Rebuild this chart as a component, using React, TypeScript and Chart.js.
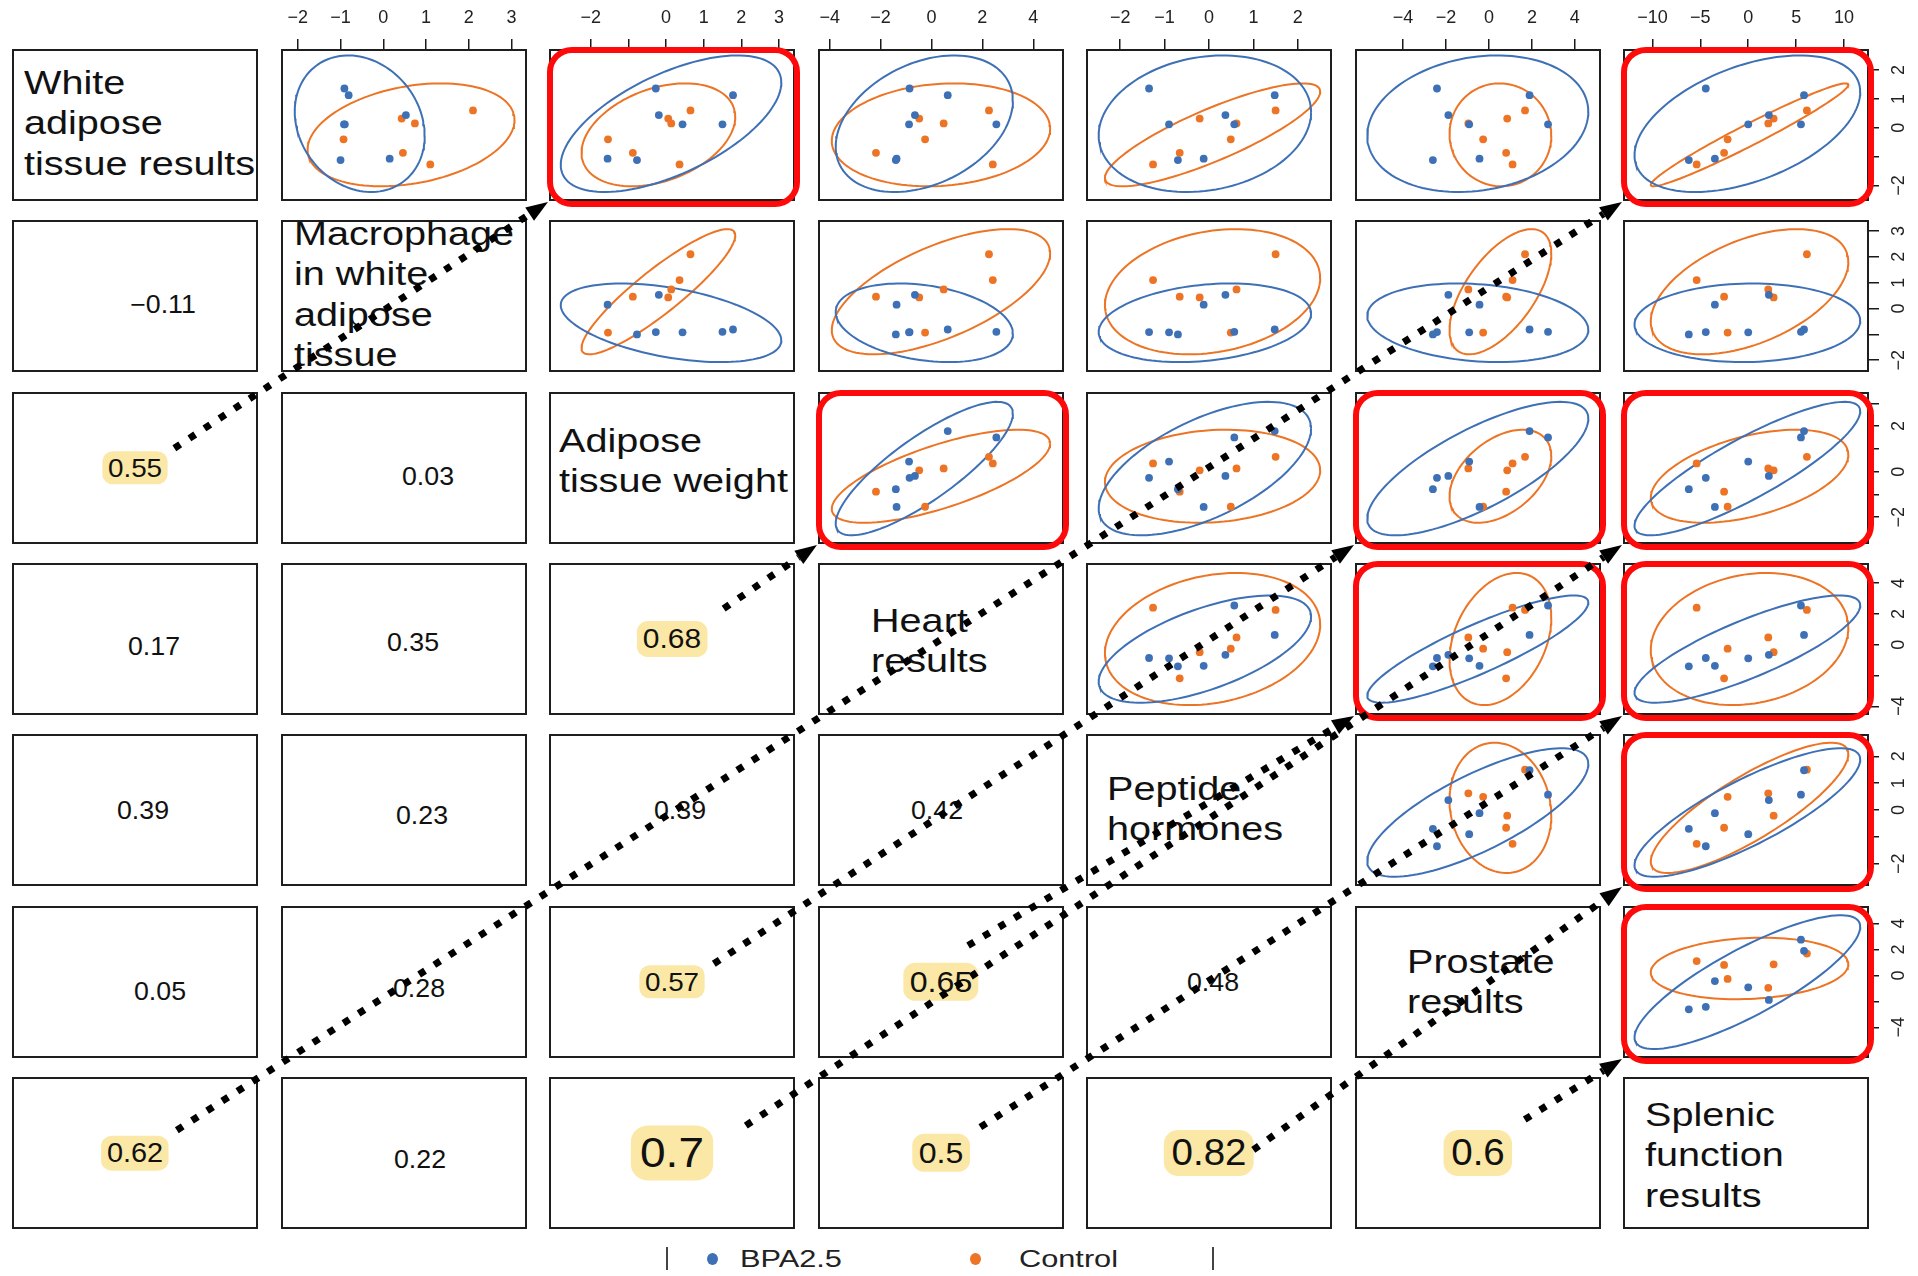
import React, { useEffect, useRef } from "react";
import { Chart, registerables } from "chart.js";

Chart.register(...registerables);

const FONT = "'Liberation Sans', Arial, Helvetica, sans-serif";

// ---------- data ----------
const variableNames: string[][] = [
  ["White", "adipose", "tissue results"],
  ["Macrophage", "in white", "adipose", "tissue"],
  ["Adipose", "tissue weight"],
  ["Heart", "results"],
  ["Peptide", "hormones"],
  ["Prostate", "results"],
  ["Splenic", "function", "results"],
];

const groupNames = ["BPA2.5", "Control"];

// BPA2.5 group (7 observations)
const bpaWhiteAdipose = [1.36, 1.13, 0.44, 0.12, 0.12, -1.12, -1.07];
const bpaMacrophage = [-0.91, -0.81, 0.53, -0.92, -0.9, -1.0, 0.15];
const bpaAdiposeWeight = [-0.27, 1.78, -0.19, 0.44, 1.5, -0.77, -1.55];
const bpaHeart = [-0.86, 0.64, -0.65, -0.88, 2.55, -1.4, -1.37];
const bpaPeptide = [-1.35, 1.48, 0.37, -0.9, 0.57, -0.7, -0.12];
const bpaProstate = [-2.42, 1.89, -1.89, -0.92, 2.75, -2.61, -0.44];
const bpaSplenic = [-4.43, 5.82, 2.15, 0.0, 5.5, -6.2, -3.48];

// Control group (6 observations)
const ctrlWhiteAdipose = [0.6, 0.32, 0.15, -0.4, -0.87, -1.27];
const ctrlMacrophage = [2.1, 0.43, 0.74, -0.93, 0.46, 1.1];
const ctrlAdiposeWeight = [0.65, 0.06, 0.14, -1.54, -0.88, 0.36];
const ctrlHeart = [2.26, -0.48, 0.48, -0.25, -2.18, 2.41];
const ctrlPeptide = [1.5, -0.21, 0.62, 0.49, -0.66, -1.26];
const ctrlProstate = [1.68, 0.85, -0.96, -0.27, 0.8, 1.1];
const ctrlSplenic = [6.12, 2.65, 2.09, -2.15, -2.52, -5.38];

// axis ranges per variable
const axisMin = [-2.4, -2.3, -3.0, -4.3, -2.68, -6.05, -12.65];
const axisMax = [2.73, 3.27, 3.32, 5.05, 2.68, 5.03, 12.6];

// ticks per variable
const ticksV1 = [-2, -1, 0, 1, 2];
const ticksV2 = [-2, -1, 0, 1, 2, 3];
const ticksV3 = [-2, -1, 0, 1, 2, 3];
const ticksV4 = [-4, -2, 0, 2, 4];
const ticksV5 = [-2, -1, 0, 1, 2];
const ticksV6 = [-4, -2, 0, 2, 4];
const ticksV7 = [-10, -5, 0, 5, 10];

// labelled ticks on the top axis (columns) and right axis (rows)
const topLabelsV2 = [-2, -1, 0, 1, 2, 3];
const topLabelsV3 = [-2, 0, 1, 2, 3];
const topLabelsV4 = [-4, -2, 0, 2, 4];
const topLabelsV5 = [-2, -1, 0, 1, 2];
const topLabelsV6 = [-4, -2, 0, 2, 4];
const topLabelsV7 = [-10, -5, 0, 5, 10];
const rightLabelsV1 = [-2, 0, 1, 2];
const rightLabelsV2 = [-2, 0, 1, 2, 3];
const rightLabelsV3 = [-2, 0, 2];
const rightLabelsV4 = [-4, 0, 2, 4];
const rightLabelsV5 = [-2, 0, 1, 2];
const rightLabelsV6 = [-4, 0, 2, 4];

// correlations (lower triangle, rows 2..7)
const corrRow2 = ["\u22120.11"];
const corrRow3 = ["0.55", "0.03"];
const corrRow4 = ["0.17", "0.35", "0.68"];
const corrRow5 = ["0.39", "0.23", "0.39", "0.42"];
const corrRow6 = ["0.05", "0.28", "0.57", "0.65", "0.48"];
const corrRow7 = ["0.62", "0.22", "0.7", "0.5", "0.82", "0.6"];

// highlighted correlations [row, col] (0-based, lower triangle)
const highlighted: [number, number][] = [
  [2, 0], [3, 2], [5, 2], [5, 3], [6, 0], [6, 2], [6, 3], [6, 4], [6, 5],
];

// ---------- tables built from the arrays ----------
const bpaVars = [bpaWhiteAdipose, bpaMacrophage, bpaAdiposeWeight, bpaHeart, bpaPeptide, bpaProstate, bpaSplenic];
const ctrlVars = [ctrlWhiteAdipose, ctrlMacrophage, ctrlAdiposeWeight, ctrlHeart, ctrlPeptide, ctrlProstate, ctrlSplenic];
const varTicks = [ticksV1, ticksV2, ticksV3, ticksV4, ticksV5, ticksV6, ticksV7];
const topLabels = [ticksV1, topLabelsV2, topLabelsV3, topLabelsV4, topLabelsV5, topLabelsV6, topLabelsV7];
const rightLabels = [rightLabelsV1, rightLabelsV2, rightLabelsV3, rightLabelsV4, rightLabelsV5, rightLabelsV6, ticksV7];
const corrRows = [[], corrRow2, corrRow3, corrRow4, corrRow5, corrRow6, corrRow7];

// ---------- styles / layout ----------
const COLORS = ["#3E70B6", "#EC7424"];
const HL_COLOR = "#FBE8A6";
const RED = "#FE0A0A";
const TOP_AXIS = 49;
const RIGHT_AXIS = 50;

function cellRect(r: number, c: number) {
  return { x: Math.round(12 + 268.5 * c), y: Math.round(49 + 171.3 * r), w: 246, h: 152 };
}

const corrOffset: Record<string, [number, number]> = {
  "1-0": [28, 8], "2-0": [0, 0], "3-0": [19, 7], "4-0": [8, 0], "5-0": [25, 9], "6-0": [0, 0],
  "2-1": [24, 8], "3-1": [9, 3], "4-1": [18, 5], "5-1": [15, 6], "6-1": [16, 6],
  "3-2": [0, 0], "4-2": [8, 0], "5-2": [0, 0], "6-2": [0, 0],
  "4-3": [-4, 0], "5-3": [0, 0], "6-3": [0, 0],
  "5-4": [4, 0], "6-4": [0, 0], "6-5": [0, 0],
};
const hlFontSize: Record<string, number> = {
  "2-0": 26, "3-2": 28, "5-2": 26, "5-3": 30, "6-0": 27, "6-2": 43, "6-3": 30, "6-4": 36, "6-5": 36,
};
const arrowStart: Record<string, [number, number]> = {
  "2-0": [0.66, 0.37], "3-2": [0.71, 0.3], "5-2": [0.67, 0.38], "5-3": [0.61, 0.26],
  "6-0": [0.67, 0.35], "6-2": [0.8, 0.32], "6-3": [0.66, 0.33], "6-4": [0.68, 0.48], "6-5": [0.69, 0.28],
};
const labelPos: [number, number][] = [
  [24, 94], [294, 245], [559, 452], [871, 632], [1107, 800], [1407, 973], [1645, 1126],
];
const legendDotX = [712, 975];
const legendTextX = [740, 1019];

const fmt = (v: number) => (v < 0 ? "\u2212" + Math.abs(v) : String(v));

function ellipsePoints(xs: number[], ys: number[]) {
  const n = xs.length;
  const mx = xs.reduce((a, b) => a + b, 0) / n;
  const my = ys.reduce((a, b) => a + b, 0) / n;
  let sxx = 0, syy = 0, sxy = 0;
  for (let i = 0; i < n; i++) {
    sxx += (xs[i] - mx) ** 2;
    syy += (ys[i] - my) ** 2;
    sxy += (xs[i] - mx) * (ys[i] - my);
  }
  sxx /= n - 1; syy /= n - 1; sxy /= n - 1;
  const a = Math.sqrt(sxx);
  const b = sxy / a;
  const c = Math.sqrt(Math.max(syy - b * b, 1e-9));
  const k = Math.sqrt(5.991); // 95% normal data ellipse
  const pts: { x: number; y: number }[] = [];
  const steps = 120;
  for (let s = 0; s <= steps; s++) {
    const t = (2 * Math.PI * s) / steps;
    pts.push({ x: mx + k * a * Math.cos(t), y: my + k * (b * Math.cos(t) + c * Math.sin(t)) });
  }
  return pts;
}

function axisOptions(v: number, horizontal: boolean, show: boolean) {
  const tickVals = varTicks[v];
  const labelled = horizontal ? topLabels[v] : rightLabels[v];
  return {
    type: "linear" as const,
    position: horizontal ? ("top" as const) : ("right" as const),
    min: axisMin[v],
    max: axisMax[v],
    display: show,
    grid: { display: true, drawOnChartArea: false, drawTicks: true, tickLength: 10, color: "#1a1a1a", lineWidth: 1.5 },
    border: { display: false },
    afterBuildTicks: (axis: any) => {
      axis.ticks = tickVals.map((value) => ({ value }));
    },
    afterFit: (axis: any) => {
      if (!show) {
        axis.width = 0;
        axis.height = 0;
        axis.paddingLeft = 0;
        axis.paddingRight = 0;
        axis.paddingTop = 0;
        axis.paddingBottom = 0;
        return;
      }
      if (horizontal) {
        axis.height = TOP_AXIS;
        axis.paddingLeft = 0;
        axis.paddingRight = 0;
      } else {
        axis.width = RIGHT_AXIS;
        axis.paddingTop = 0;
        axis.paddingBottom = 0;
      }
    },
    ticks: {
      autoSkip: false,
      font: { family: FONT, size: 18 },
      color: "#222",
      padding: horizontal ? 10 : 10,
      minRotation: horizontal ? 0 : 90,
      maxRotation: horizontal ? 0 : 90,
      crossAlign: horizontal ? ("near" as const) : ("center" as const),
      callback: (value: any) => (labelled.includes(Number(value)) ? fmt(Number(value)) : ""),
    },
  };
}

function ScatterPanel({ row, col }: { row: number; col: number }) {
  const ref = useRef<HTMLCanvasElement>(null);
  const box = cellRect(row, col);
  const topAxis = row === 0;
  const rightAxis = col === 6;
  const extraTop = topAxis ? TOP_AXIS : 0;
  const width = box.w + (rightAxis ? RIGHT_AXIS : 0);
  const height = box.h + extraTop;

  useEffect(() => {
    const xsets = [bpaVars[col], ctrlVars[col]];
    const ysets = [bpaVars[row], ctrlVars[row]];
    const datasets: any[] = [];
    groupNames.forEach((g, gi) => {
      datasets.push({
        label: g,
        data: xsets[gi].map((x, k) => ({ x, y: ysets[gi][k] })),
        pointRadius: 3.9,
        pointBackgroundColor: COLORS[gi],
        pointBorderWidth: 0,
        showLine: false,
      });
    });
    groupNames.forEach((g, gi) => {
      datasets.push({
        label: g + " ellipse",
        data: ellipsePoints(xsets[gi], ysets[gi]),
        showLine: true,
        pointRadius: 0,
        borderColor: COLORS[gi],
        borderWidth: 2,
        fill: false,
        tension: 0,
      });
    });
    const chart = new Chart(ref.current!, {
      type: "scatter",
      data: { datasets },
      options: {
        responsive: false,
        animation: false,
        events: [],
        layout: { padding: 0 },
        plugins: { legend: { display: false }, tooltip: { enabled: false } },
        scales: {
          x: axisOptions(col, true, topAxis) as any,
          y: axisOptions(row, false, rightAxis) as any,
        },
      },
    });
    return () => chart.destroy();
  }, [row, col]);

  return (
    <canvas
      ref={ref}
      width={width}
      height={height}
      style={{ position: "absolute", left: box.x, top: box.y - extraTop, width, height }}
    />
  );
}

function Overlay() {
  const ref = useRef<HTMLCanvasElement>(null);
  useEffect(() => {
    const annotations = {
      id: "annotations",
      afterDraw(chart: any) {
        const ctx: CanvasRenderingContext2D = chart.ctx;
        ctx.save();
        // red rounded frames on the mirrored panels
        highlighted.forEach(([r, c]) => {
          const p = cellRect(c, r);
          ctx.beginPath();
          ctx.strokeStyle = RED;
          ctx.lineWidth = 6;
          (ctx as any).roundRect(p.x + 1, p.y + 1, p.w + 1, p.h + 2, 22);
          ctx.stroke();
        });
        // dotted arrows
        highlighted.forEach(([r, c]) => {
          const src = cellRect(r, c);
          const f = arrowStart[`${r}-${c}`];
          const sx = src.x + f[0] * src.w;
          const sy = src.y + f[1] * src.h;
          const p = cellRect(c, r);
          const tx = p.x - 1;
          const ty = p.y + p.h + 1;
          const dx = tx - sx, dy = ty - sy;
          const len = Math.hypot(dx, dy);
          const ux = dx / len, uy = dy / len;
          const head = 22, half = 8;
          const bx = tx - ux * head, by = ty - uy * head;
          ctx.beginPath();
          ctx.strokeStyle = "#000";
          ctx.lineWidth = 7;
          ctx.lineCap = "butt";
          ctx.setLineDash([7, 11]);
          ctx.moveTo(sx, sy);
          ctx.lineTo(bx, by);
          ctx.stroke();
          ctx.setLineDash([]);
          ctx.beginPath();
          ctx.fillStyle = "#000";
          ctx.moveTo(tx, ty);
          ctx.lineTo(bx - uy * half, by + ux * half);
          ctx.lineTo(bx + uy * half, by - ux * half);
          ctx.closePath();
          ctx.fill();
        });
        ctx.restore();
      },
    };
    const chart = new Chart(ref.current!, {
      type: "scatter",
      data: { datasets: [] },
      options: {
        responsive: false,
        animation: false,
        events: [],
        layout: { padding: 0 },
        scales: { x: { display: false }, y: { display: false } },
        plugins: { legend: { display: false }, tooltip: { enabled: false } },
      },
      plugins: [annotations],
    });
    return () => chart.destroy();
  }, []);
  return (
    <canvas
      ref={ref}
      width={1918}
      height={1276}
      style={{ position: "absolute", left: 0, top: 0, width: 1918, height: 1276, pointerEvents: "none" }}
    />
  );
}

export default function App() {
  const cells: React.ReactNode[] = [];
  for (let r = 0; r < 7; r++) {
    for (let c = 0; c < 7; c++) {
      const b = cellRect(r, c);
      cells.push(
        <div
          key={`box-${r}-${c}`}
          style={{
            position: "absolute",
            left: b.x,
            top: b.y,
            width: b.w,
            height: b.h,
            border: "2px solid #1e1e1e",
            boxSizing: "border-box",
            background: "#fff",
          }}
        />
      );
    }
  }

  const panels: React.ReactNode[] = [];
  for (let r = 0; r < 7; r++) {
    for (let c = r + 1; c < 7; c++) {
      panels.push(<ScatterPanel key={`p-${r}-${c}`} row={r} col={c} />);
    }
  }

  const labels = variableNames.map((lines, i) => {
    const [lx, baseline] = labelPos[i];
    return (
      <div
        key={`lab-${i}`}
        style={{
          position: "absolute",
          left: lx,
          top: baseline - 31.5,
          fontFamily: FONT,
          fontSize: 33,
          lineHeight: "40.5px",
          color: "#111",
          whiteSpace: "nowrap",
          transform: "scaleX(1.2)",
          transformOrigin: "0 0",
        }}
      >
        {lines.map((l, k) => (
          <div key={k}>{l}</div>
        ))}
      </div>
    );
  });

  const corrTexts: React.ReactNode[] = [];
  corrRows.forEach((rowVals, r) => {
    rowVals.forEach((txt, c) => {
      const key = `${r}-${c}`;
      const b = cellRect(r, c);
      const [dx, dy] = corrOffset[key] || [0, 0];
      const hl = highlighted.some(([hr, hc]) => hr === r && hc === c);
      const size = hl ? hlFontSize[key] : 25;
      corrTexts.push(
        <div
          key={`corr-${key}`}
          style={{
            position: "absolute",
            left: b.x + b.w / 2 + dx,
            top: b.y + b.h / 2 + dy,
            transform: "translate(-50%, -50%) scaleX(1.07)",
            fontFamily: FONT,
            fontSize: size,
            lineHeight: 1.08,
            color: "#111",
            whiteSpace: "nowrap",
            background: hl ? HL_COLOR : "transparent",
            padding: hl ? "0.1em 0.2em" : 0,
            borderRadius: hl ? "0.38em" : 0,
          }}
        >
          {txt}
        </div>
      );
    });
  });

  const legend = (
    <>
      <div style={{ position: "absolute", left: 666, top: 1247, width: 2, height: 23, background: "#444" }} />
      <div style={{ position: "absolute", left: 1212, top: 1247, width: 2, height: 23, background: "#444" }} />
      {groupNames.map((g, i) => (
        <React.Fragment key={`lg-${i}`}>
          <div
            style={{
              position: "absolute",
              left: legendDotX[i] - 5.5,
              top: 1259 - 6,
              width: 11,
              height: 12,
              borderRadius: "50%",
              background: COLORS[i],
            }}
          />
          <div
            style={{
              position: "absolute",
              left: legendTextX[i],
              top: 1259 - 14,
              fontFamily: FONT,
              fontSize: 24,
              lineHeight: "28px",
              color: "#222",
              whiteSpace: "nowrap",
              transform: "scaleX(1.28)",
              transformOrigin: "0 50%",
            }}
          >
            {g}
          </div>
        </React.Fragment>
      ))}
    </>
  );

  return (
    <div
      style={{
        position: "absolute",
        left: 0,
        top: 0,
        width: 1918,
        height: 1276,
        overflow: "hidden",
        background: "#fff",
      }}
    >
      {cells}
      {panels}
      {labels}
      {corrTexts}
      {legend}
      <Overlay />
    </div>
  );
}
